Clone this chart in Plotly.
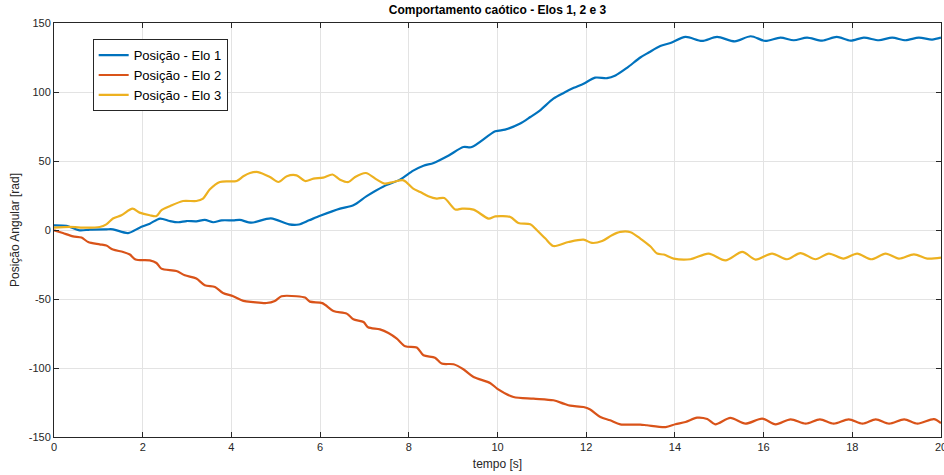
import plotly.graph_objects as go

# ---- data ----
t_elo1 = [0, 0.28, 0.58, 0.81, 1.18, 1.33, 1.67, 1.93, 2.16, 2.39, 2.61, 2.8, 2.99, 3.21, 3.4, 3.59,
          3.78, 4.04, 4.19, 4.45, 4.89, 5.3, 5.52, 5.75, 6.0, 6.45, 6.75, 7.05, 7.43, 7.8, 8.1, 8.33,
          8.56, 8.9, 9.23, 9.42, 9.95, 10.17, 10.5, 10.74, 10.96, 11.26, 11.5, 11.72, 11.94, 12.2,
          12.47, 12.66, 12.92, 13.22, 13.41, 13.67, 13.9, 14.24, 14.61, 14.95, 15.35, 15.71, 16.04,
          16.38, 16.68, 16.98, 17.32, 17.65, 17.96, 18.26, 18.6, 18.9, 19.2, 19.5, 19.8, 20.0]
y_elo1 = [3.4, 3.0, -0.3, 0.3, 0.5, 0.5, -2.2, 1.7, 4.6, 8.3, 6.5, 5.6, 6.5, 6.3, 7.3, 5.6,
          7.0, 7.0, 7.3, 5.3, 8.4, 4.1, 4.0, 7.0, 10.3, 15.5, 17.9, 24.5, 31.5, 36.5, 43.0, 46.6,
          48.6, 54.0, 60.1, 60.1, 71.5, 72.7, 77.0, 81.9, 86.7, 95.2, 99.5, 103.0, 106.0, 110.4,
          110.0, 112.0, 117.5, 125.0, 128.6, 133.3, 135.5, 139.9, 137.0, 139.9, 136.7, 140.4, 137.0,
          139.4, 137.5, 139.4, 137.2, 139.9, 137.2, 139.4, 137.5, 139.4, 137.5, 139.4, 138.0, 139.4]

t_elo2 = [0, 0.2, 0.43, 0.62, 0.77, 1.03, 1.18, 1.33, 1.56, 1.71, 1.84, 2.16, 2.31, 2.42, 2.76, 2.95,
          3.21, 3.4, 3.63, 3.81, 4.04, 4.27, 4.49, 4.79, 4.98, 5.13, 5.47, 5.66, 5.77, 6.05, 6.3, 6.6,
          6.75, 6.98, 7.08, 7.35, 7.54, 7.73, 7.92, 8.18, 8.33, 8.59, 8.74, 9.01, 9.23, 9.46, 9.84,
          9.99, 10.36, 10.81, 11.26, 11.49, 11.64, 11.94, 12.09, 12.32, 12.54, 12.77, 13.22, 13.37,
          13.79, 14.01, 14.24, 14.5, 14.73, 14.91, 15.25, 15.59, 15.97, 16.27, 16.61, 16.95, 17.27,
          17.58, 17.92, 18.23, 18.53, 18.83, 19.17, 19.47, 19.84, 20.0]
y_elo2 = [-0.2, -2.2, -4.6, -5.5, -8.7, -10.4, -11.3, -14.2, -15.9, -17.8, -21.4, -22.0, -23.9, -28.0,
          -29.7, -32.8, -35.2, -40.0, -41.3, -45.6, -48.0, -51.4, -52.2, -52.9, -51.4, -48.0, -48.0,
          -49.0, -51.9, -53.0, -58.7, -60.6, -64.7, -66.7, -70.5, -72.0, -74.6, -78.7, -84.3, -85.2,
          -90.8, -92.5, -96.8, -97.3, -100.9, -106.5, -111.0, -114.9, -121.0, -122.2, -123.4, -125.8,
          -127.3, -128.3, -130.1, -135.5, -137.9, -140.8, -141.0, -141.5, -142.8, -140.8, -139.1,
          -136.0, -137.0, -140.8, -136.2, -140.3, -136.7, -140.8, -137.2, -140.3, -137.2, -140.3,
          -137.2, -140.3, -137.2, -140.3, -137.2, -140.3, -137.0, -139.9]

t_elo3 = [0, 0.35, 0.73, 1.03, 1.18, 1.33, 1.52, 1.77, 1.93, 2.16, 2.31, 2.42, 2.61, 2.91, 3.21, 3.36,
          3.51, 3.74, 4.12, 4.27, 4.42, 4.6, 4.87, 5.06, 5.25, 5.47, 5.66, 5.85, 6.07, 6.28, 6.45, 6.64,
          6.79, 7.03, 7.28, 7.45, 7.65, 7.88, 8.1, 8.26, 8.44, 8.63, 8.8, 9.05, 9.2, 9.46, 9.8, 9.95,
          10.29, 10.47, 10.74, 10.89, 11.08, 11.26, 11.6, 11.94, 12.13, 12.36, 12.58, 12.77, 13.0,
          13.22, 13.45, 13.6, 13.75, 13.97, 14.35, 14.76, 15.14, 15.52, 15.82, 16.19, 16.53, 16.83,
          17.17, 17.47, 17.8, 18.11, 18.43, 18.75, 19.05, 19.39, 19.69, 20.0]
y_elo3 = [1.7, 2.2, 1.7, 2.2, 4.1, 8.3, 10.7, 15.5, 12.6, 10.7, 10.1, 14.3, 17.2, 21.0, 21.0, 22.8,
          29.3, 34.8, 35.5, 38.9, 41.3, 42.0, 38.4, 34.8, 39.0, 39.6, 35.5, 37.2, 38.0, 40.2, 36.5,
          34.8, 38.4, 41.3, 36.5, 33.6, 34.8, 36.0, 30.0, 27.5, 24.5, 22.8, 23.2, 14.8, 15.5, 14.8,
          8.3, 9.9, 9.4, 5.1, 4.1, -0.2, -6.2, -11.6, -8.7, -7.0, -9.4, -8.0, -3.8, -1.4, -1.6,
          -6.2, -12.0, -17.1, -17.8, -20.7, -21.2, -17.1, -22.0, -15.9, -21.4, -17.1, -21.2, -16.7,
          -21.2, -17.1, -20.7, -17.1, -21.2, -17.1, -20.7, -17.6, -20.7, -20.0]

series_names = ["Posição - Elo 1", "Posição - Elo 2", "Posição - Elo 3"]
series_colors = ["#0072BD", "#D95319", "#EDB120"]
x_ticks = [0, 2, 4, 6, 8, 10, 12, 14, 16, 18, 20]
y_ticks = [-150, -100, -50, 0, 50, 100, 150]

fig = go.Figure()
for t, y, name, col in zip([t_elo1, t_elo2, t_elo3], [y_elo1, y_elo2, y_elo3],
                           series_names, series_colors):
    fig.add_trace(go.Scatter(x=t, y=y, mode="lines", name=name,
                             line=dict(color=col, width=2.2, shape="spline", smoothing=0.8)))

axis_common = dict(
    showline=True, linecolor="#262626", linewidth=1, mirror="ticks",
    ticks="inside", ticklen=5, tickcolor="#262626",
    showgrid=True, gridcolor="#e3e3e3", gridwidth=1, zeroline=False,
    ticklabeloverflow="allow", automargin=False,
    tickfont=dict(family="Liberation Sans, Arial", size=11, color="#262626"),
)

fig.update_layout(
    width=944, height=475,
    margin=dict(l=54, r=3, t=23, b=38),
    paper_bgcolor="white", plot_bgcolor="white",
    font=dict(family="Liberation Sans, Arial", color="#262626"),
    title=dict(text="<b>Comportamento caótico - Elos 1, 2 e 3</b>",
               x=0.5, xref="paper", xanchor="center",
               y=1 - 10 / 475, yref="container", yanchor="middle",
               font=dict(size=12, color="#000000")),
    xaxis=dict(range=[0, 20], tickvals=x_ticks, ticktext=[str(v) for v in x_ticks],
               title=dict(text="tempo [s]", standoff=7,
                          font=dict(size=12, color="#262626")),
               **axis_common),
    yaxis=dict(range=[-150, 150], tickvals=y_ticks, ticktext=[str(v) for v in y_ticks],
               title=dict(text="Posição Angular [rad]", standoff=6,
                          font=dict(size=12, color="#262626")),
               **axis_common),
    legend=dict(x=0.0436, y=0.961, xanchor="left", yanchor="top",
                bgcolor="white", bordercolor="#262626", borderwidth=1,
                font=dict(family="Liberation Sans, Arial", size=13, color="#000000"),
                tracegroupgap=0, itemwidth=30),
    showlegend=True,
)

fig.write_html("out.html")
